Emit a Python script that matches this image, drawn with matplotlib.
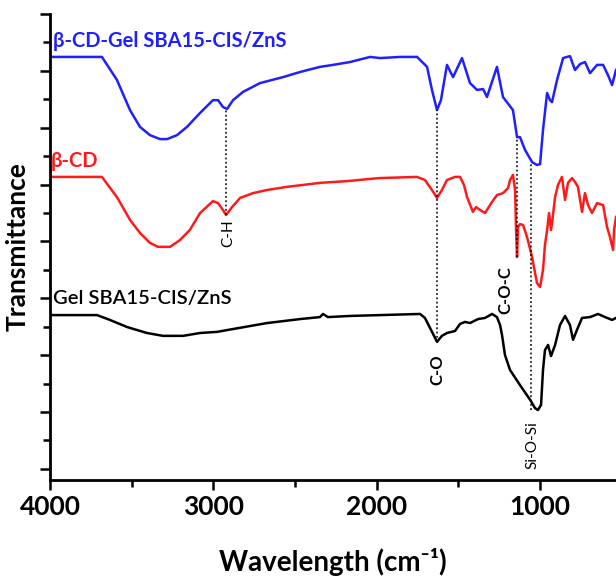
"""
FTIR spectra: beta-CD, Gel SBA15-CIS/ZnS and the combined material.
"""

import matplotlib
matplotlib.use('Agg')
import matplotlib.pyplot as plt
from matplotlib.ticker import MultipleLocator

plt.rcParams.update({
    'font.family': ['Lato', 'DejaVu Sans'],
    'font.size': 12,
    'axes.linewidth': 2.0,
})

# Blue: beta-CD-Gel SBA15-CIS/ZnS
blue_wn = [4000, 3682, 3590, 3510, 3449, 3388, 3326, 3283, 3222, 3161, 3081,
           3002, 2971, 2941, 2916, 2879, 2818, 2714, 2573, 2469, 2347, 2267,
           2163, 2040, 1979, 1857, 1752, 1691, 1661, 1630, 1606, 1569, 1532,
           1477, 1428, 1385, 1348, 1324, 1263, 1226, 1165, 1140, 1122, 1091,
           1048, 1018, 999, 981, 956, 938, 926, 895, 858, 816, 785, 754, 724,
           693, 650, 613, 583, 558, 534]
blue_t = [14.49, 14.49, 13.68, 12.62, 12.03, 11.74, 11.60, 11.60, 11.74, 12.03,
          12.52, 12.97, 12.97, 12.73, 12.66, 12.97, 13.26, 13.57, 13.78, 13.96,
          14.14, 14.21, 14.31, 14.49, 14.45, 14.49, 14.49, 14.14, 13.33, 12.62,
          12.97, 14.21, 13.78, 14.45, 13.57, 13.33, 13.36, 13.08, 14.14, 13.08,
          12.62, 11.67, 11.67, 11.22, 10.79, 10.69, 10.72, 11.92, 13.22, 12.97,
          12.90, 13.68, 14.45, 14.52, 14.03, 14.24, 14.31, 13.92, 14.21, 14.21,
          13.85, 13.50, 14.03]

# Red: beta-CD
red_wn = [4000, 3682, 3590, 3510, 3449, 3388, 3339, 3265, 3204, 3143, 3081,
          3002, 2971, 2941, 2922, 2885, 2836, 2757, 2671, 2549, 2347, 2163,
          2040, 1979, 1752, 1704, 1661, 1630, 1600, 1569, 1520, 1489, 1465,
          1446, 1410, 1391, 1367, 1336, 1293, 1263, 1226, 1195, 1183, 1165,
          1152, 1146, 1140, 1134, 1122, 1103, 1079, 1048, 1018, 999, 981, 969,
          956, 944, 932, 920, 907, 889, 865, 846, 828, 803, 785, 767, 742, 724,
          705, 681, 650, 613, 589, 571, 552, 546, 534]
red_t = [10.27, 10.27, 9.56, 8.76, 8.30, 7.95, 7.81, 7.81, 8.05, 8.41, 9.00,
         9.42, 9.35, 9.11, 8.93, 9.21, 9.53, 9.70, 9.81, 9.92, 10.06, 10.13,
         10.20, 10.23, 10.27, 10.16, 9.81, 9.53, 9.81, 10.16, 10.27, 10.27, 9.99,
         9.56, 9.04, 9.21, 9.11, 9.00, 9.39, 9.63, 9.70, 9.88, 10.16, 10.34,
         9.81, 8.40, 7.45, 8.51, 8.61, 8.58, 8.16, 7.45, 6.54, 6.40, 7.00, 7.88,
         8.40, 9.00, 8.40, 8.93, 9.56, 9.99, 10.27, 9.46, 10.06, 10.23, 10.09,
         9.92, 9.04, 9.70, 9.28, 9.00, 9.35, 9.28, 8.51, 8.16, 7.70, 8.40, 8.86]

# Black: Gel SBA15-CIS/ZnS
gel_wn = [4000, 3712, 3633, 3528, 3406, 3308, 3185, 3081, 2977, 2879, 2671,
          2469, 2347, 2328, 2298, 2163, 1979, 1734, 1704, 1673, 1630, 1600,
          1569, 1520, 1489, 1459, 1428, 1379, 1336, 1293, 1263, 1244, 1232,
          1214, 1183, 1122, 1060, 1030, 1012, 993, 981, 969, 950, 932, 907,
          877, 846, 816, 797, 773, 742, 693, 644, 601, 558, 534]
gel_t = [5.41, 5.41, 5.24, 4.99, 4.78, 4.68, 4.68, 4.78, 4.82, 4.92, 5.13,
         5.27, 5.34, 5.45, 5.34, 5.38, 5.41, 5.45, 5.31, 4.96, 4.47, 4.68,
         4.78, 4.85, 5.10, 5.17, 5.13, 5.27, 5.31, 5.45, 5.34, 5.06, 4.71,
         4.01, 3.48, 2.95, 2.43, 2.14, 2.07, 2.25, 3.48, 4.18, 4.36, 3.97,
         4.36, 5.06, 5.38, 5.06, 4.54, 4.89, 5.31, 5.34, 5.45, 5.34, 5.24, 5.31]

# Band markers (dotted guide lines and their labels)
band_wn = [2922, 1630, 1140, 1054]
band_top = [12.66, 12.62, 11.67, 10.80]
band_bottom = [8.93, 4.47, 7.45, 2.07]
band_labels = ['C-H', 'C-O', 'C-O-C', 'Si-O-Si']
band_label_y = [8.30, 3.48, 6.29, 0.84]
band_label_wn = [2910, 1630, 1214, 1048]
band_weight = ['normal', 'bold', 'bold', 'normal']
band_size = [11, 12, 12, 11]

series_labels = ['β-CD-Gel SBA15-CIS/ZnS', 'β-CD', 'Gel SBA15-CIS/ZnS']
series_colors = ['#1f1fff', '#ff1a1a', 'black']
series_weight = ['bold', 'bold', 'semibold']
label_pos = [(3982, 15.05), (3995, 10.83), (3982, 6.01)]

fig = plt.figure(figsize=(6.16, 5.78), dpi=100)
ax = fig.add_axes([50 / 616, 98 / 578, 566 / 616, 466 / 578])

ax.plot(blue_wn, blue_t, color=series_colors[0], lw=1.8)
ax.plot(red_wn, red_t, color=series_colors[1], lw=1.8)
ax.plot(gel_wn, gel_t, color=series_colors[2], lw=1.8)

for wn, top, bot in zip(band_wn, band_top, band_bottom):
    ax.plot([wn, wn], [bot, top], color='black', lw=1.1, ls=(0, (1.2, 1.6)))

for lab, x, y, w, s in zip(band_labels, band_label_wn, band_label_y,
                           band_weight, band_size):
    ax.text(x, y, lab, rotation=90, ha='center', va='center',
            fontsize=s, fontweight=w, color='black')

for lab, (x, y), c, w in zip(series_labels, label_pos, series_colors,
                             series_weight):
    ax.text(x, y, lab, ha='left', va='center', fontsize=14.5,
            fontweight=w, color=c)

ax.set_xlim(4000, 534)
ax.set_ylim(-0.39, 16)
ax.xaxis.set_major_locator(MultipleLocator(1000))
ax.xaxis.set_minor_locator(MultipleLocator(500))
ax.yaxis.set_major_locator(MultipleLocator(2))
ax.yaxis.set_minor_locator(MultipleLocator(1))
ax.tick_params(which='major', direction='out', length=7, width=1.8)
ax.tick_params(which='minor', direction='out', length=5, width=1.8)
ax.tick_params(axis='x', labelsize=19, pad=4)
for lbl in ax.get_xticklabels():
    lbl.set_fontweight('bold')
ax.set_yticklabels([])
ax.spines['top'].set_visible(False)
ax.spines['right'].set_visible(False)

ax.set_xlabel('Wavelength (cm⁻¹)', fontsize=20, fontweight='bold', labelpad=21)
ax.set_ylabel('Transmittance', fontsize=19, fontweight='bold', labelpad=4)

fig.savefig('out.png', dpi=100)
